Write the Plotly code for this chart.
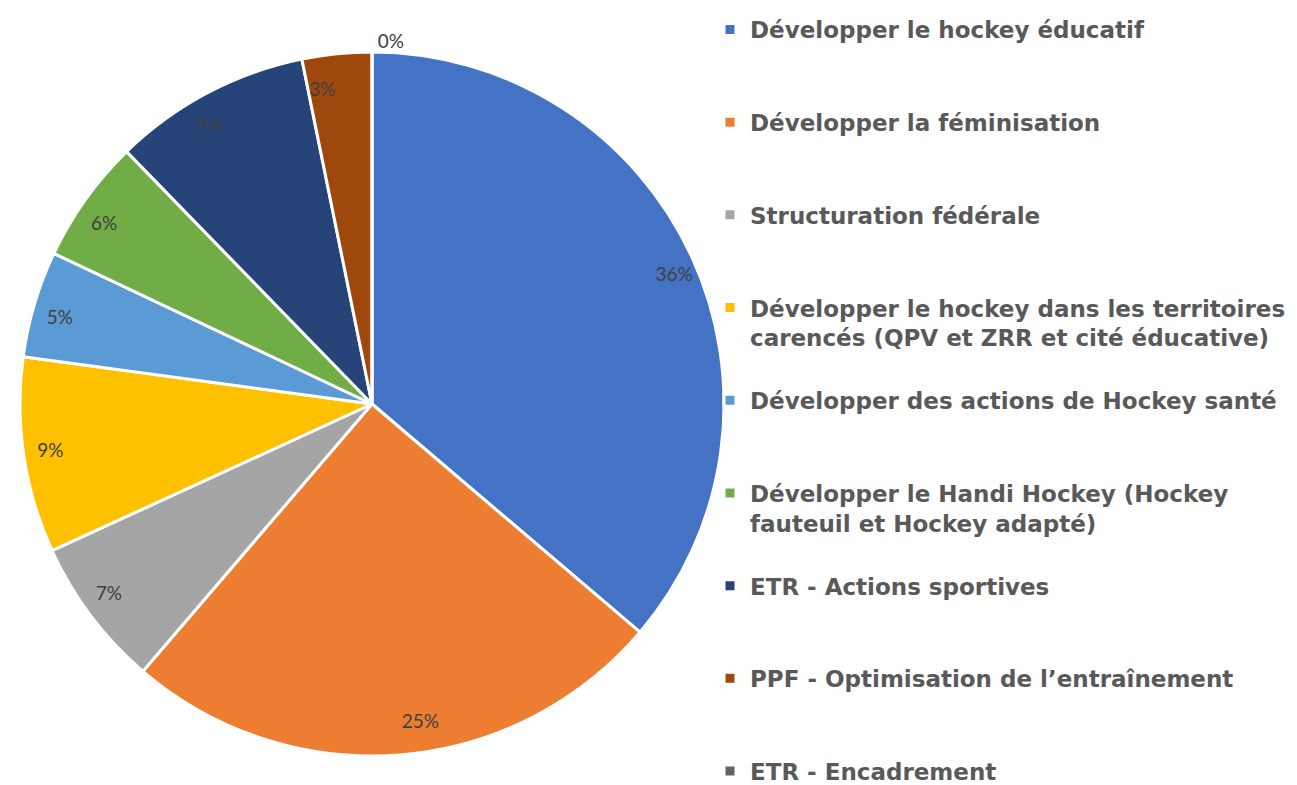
import plotly.graph_objects as go

# axes du plan (libellés de légende) et parts en %
axes = [
    "Développer le hockey éducatif",
    "Développer la féminisation",
    "Structuration fédérale",
    "Développer le hockey dans les territoires<br>carencés (QPV et ZRR et cité éducative)",
    "Développer des actions de Hockey santé",
    "Développer le Handi Hockey (Hockey<br>fauteuil et Hockey adapté)",
    "ETR - Actions sportives",
    "PPF - Optimisation de l’entraînement",
    "ETR - Encadrement",
]
parts = [36.3, 25.1, 6.9, 9.0, 4.9, 5.7, 9.1, 3.2, 0.0]
couleurs = ["#4472C4", "#ED7D31", "#A5A5A5", "#FFC000", "#5B9BD5",
            "#70AD47", "#264478", "#9E480E", "#636363"]

# chaque entrée de légende occupe trois lignes, comme dans Excel (sauf la dernière)
labels = []
for i, a in enumerate(axes):
    n = a.count("<br>") + 1
    pad = 0 if i == len(axes) - 1 else 3 - n
    labels.append(a + "<br> " * pad)

W, H = 1297, 785
off = 8                       # marge du <body> dans la page
cx, cy, r = 372 - off, 404 - off, 352
r_txt = 306                   # rayon du cercle des étiquettes


def dom(rad):
    return dict(x=[(cx - rad) / W, (cx + rad) / W],
                y=[(H - cy - rad) / H, (H - cy + rad) / H])


fig = go.Figure()

fig.add_trace(go.Pie(
    labels=labels,
    values=parts,
    sort=False,
    direction="clockwise",
    rotation=0,
    marker=dict(colors=couleurs, line=dict(color="white", width=3)),
    texttemplate="%{percent:.0%}",
    textposition=["none"] * 8 + ["outside"],
    textfont=dict(family="Lato", size=19, color="#404040"),
    hoverinfo="label+percent",
    domain=dom(r),
))

# étiquettes de pourcentage placées près du bord des parts
fig.add_trace(go.Pie(
    labels=labels,
    values=parts,
    sort=False,
    direction="clockwise",
    rotation=0,
    marker=dict(colors=["rgba(0,0,0,0)"] * len(parts), line=dict(width=0)),
    texttemplate="%{percent:.0%}",
    textposition=["outside"] * 8 + ["none"],
    textfont=dict(family="Lato", size=19, color="#404040"),
    hoverinfo="skip",
    showlegend=False,
    domain=dom(r_txt),
))

fig.update_layout(
    width=W, height=H,
    margin=dict(l=0, r=0, t=0, b=0),
    paper_bgcolor="white",
    showlegend=True,
    legend=dict(
        x=(729 - off - 19) / W, xanchor="left",
        y=1, yanchor="top",
        valign="top",
        font=dict(family="DejaVu Sans", size=23, color="#595959", weight="bold"),
        bgcolor="rgba(0,0,0,0)",
    ),
)

fig.write_html("out.html")
